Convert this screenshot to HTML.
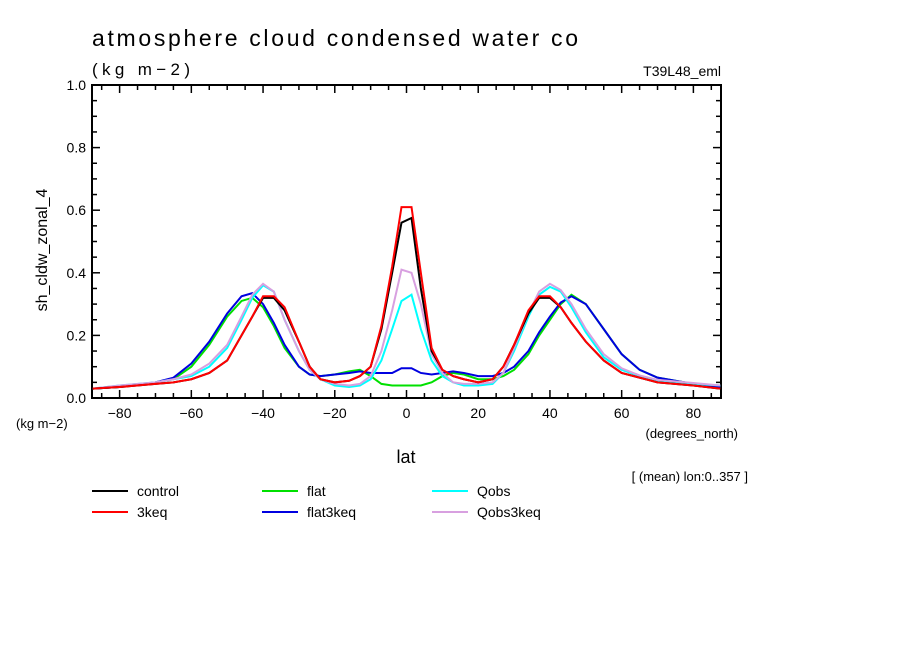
<!DOCTYPE html>
<html><head><meta charset="utf-8"><style>
body{margin:0;background:#fff}
svg text{font-family:"Liberation Sans",sans-serif;fill:#000}
</style></head><body>
<svg id="chart" width="904" height="654" viewBox="0 0 904 654">
<text x="92" y="46" font-size="23" textLength="486" lengthAdjust="spacing">atmosphere cloud condensed water co</text>
<text x="92" y="75" font-size="17" textLength="98" lengthAdjust="spacing">(kg m−2)</text>
<text x="721" y="76" font-size="14" text-anchor="end">T39L48_eml</text>
<text x="47" y="250" font-size="16" transform="rotate(-90 47 250)" text-anchor="middle">sh_cldw_zonal_4</text>
<text x="16" y="428" font-size="13">(kg m−2)</text>
<text x="406" y="463" font-size="18" text-anchor="middle">lat</text>
<text x="738" y="438" font-size="13" text-anchor="end">(degrees_north)</text>
<text x="748" y="481" font-size="13" text-anchor="end">[ (mean) lon:0..357 ]</text>
<g id="axes"></g>
<g id="series"></g>
<g id="legend"></g>
</svg>
<script>
const lats=[-87.5,-80,-70,-65,-60,-55,-50,-46,-43,-40,-37,-34,-30,-27,-24,-20,-16,-13,-10,-7,-4,-1.4,1.4,4,7,10,13,16,20,24,27,30,34,37,40,43,46,50,55,60,65,70,80,87.5];
const controlVals=[0.03,0.035,0.045,0.05,0.06,0.08,0.12,0.2,0.26,0.32,0.32,0.28,0.18,0.1,0.06,0.05,0.055,0.07,0.1,0.22,0.4,0.56,0.575,0.35,0.15,0.09,0.07,0.06,0.05,0.06,0.1,0.17,0.27,0.32,0.32,0.29,0.24,0.18,0.12,0.08,0.065,0.05,0.04,0.03];
const keq3Vals=[0.03,0.035,0.045,0.05,0.06,0.08,0.12,0.2,0.26,0.325,0.325,0.29,0.18,0.1,0.06,0.05,0.055,0.07,0.1,0.23,0.42,0.61,0.61,0.4,0.16,0.09,0.07,0.06,0.05,0.06,0.1,0.17,0.28,0.325,0.325,0.29,0.24,0.18,0.12,0.08,0.065,0.05,0.04,0.03];
const flatVals=[0.03,0.035,0.05,0.06,0.1,0.17,0.26,0.31,0.32,0.29,0.23,0.16,0.1,0.075,0.07,0.075,0.085,0.09,0.07,0.045,0.04,0.04,0.04,0.04,0.05,0.07,0.08,0.075,0.06,0.06,0.07,0.09,0.14,0.2,0.25,0.3,0.33,0.3,0.22,0.14,0.09,0.065,0.045,0.035];
const flat3keqVals=[0.03,0.035,0.05,0.065,0.11,0.18,0.27,0.325,0.335,0.3,0.24,0.17,0.1,0.075,0.07,0.075,0.08,0.085,0.08,0.08,0.08,0.095,0.095,0.08,0.075,0.08,0.085,0.08,0.07,0.07,0.08,0.1,0.15,0.21,0.26,0.305,0.325,0.3,0.22,0.14,0.09,0.065,0.045,0.035];
const qobsVals=[0.03,0.04,0.05,0.06,0.07,0.1,0.16,0.25,0.32,0.36,0.34,0.25,0.15,0.09,0.06,0.04,0.035,0.04,0.06,0.12,0.22,0.31,0.33,0.22,0.12,0.07,0.05,0.04,0.04,0.045,0.08,0.15,0.26,0.33,0.355,0.34,0.29,0.21,0.13,0.09,0.07,0.055,0.045,0.04];
const qobs3keqVals=[0.03,0.04,0.05,0.06,0.075,0.11,0.17,0.26,0.33,0.365,0.34,0.25,0.15,0.09,0.06,0.045,0.04,0.045,0.07,0.15,0.28,0.41,0.40,0.3,0.14,0.08,0.05,0.045,0.045,0.05,0.08,0.16,0.27,0.34,0.365,0.345,0.3,0.22,0.14,0.095,0.072,0.058,0.048,0.04];
const xTicks=[-80,-60,-40,-20,0,20,40,60,80];
const yTicks=[0,0.2,0.4,0.6,0.8,1.0];
const seriesNames=["control","3keq","flat","flat3keq","Qobs","Qobs3keq"];
const seriesColors=["#000000","#ff0000","#00e000","#0000e0","#00ffff","#d8a0e0"];
const seriesData=[controlVals,keq3Vals,flatVals,flat3keqVals,qobsVals,qobs3keqVals];
const L=92,R=721,T=85,B=398,XMIN=-87.7,XMAX=87.7;
const X=v=>L+(v-XMIN)/(XMAX-XMIN)*(R-L);
const Y=v=>B-v*(B-T);
const NS="http://www.w3.org/2000/svg";
function mk(t,a,p){const e=document.createElementNS(NS,t);for(const k in a)e.setAttribute(k,a[k]);p.appendChild(e);return e;}
const ax=document.getElementById('axes');
const frame=mk('rect',{x:L,y:T,width:R-L,height:B-T,fill:'none',stroke:'#000','stroke-width':2},ax);


for(let v=-85;v<=85;v+=5){const big=v%20===0;const h=big?8:5;
mk('line',{x1:X(v),x2:X(v),y1:B,y2:B-h,stroke:'#000','stroke-width':1.5},ax);
mk('line',{x1:X(v),x2:X(v),y1:T,y2:T+h,stroke:'#000','stroke-width':1.5},ax);}
for(let i=0;i<=20;i++){const v=i*0.05;const big=i%4===0;const h=big?8:5;
mk('line',{x1:L,x2:L+h,y1:Y(v),y2:Y(v),stroke:'#000','stroke-width':1.5},ax);
mk('line',{x1:R,x2:R-h,y1:Y(v),y2:Y(v),stroke:'#000','stroke-width':1.5},ax);}
xTicks.forEach(v=>{const t=mk('text',{x:X(v),y:B+20,'font-size':14,'text-anchor':'middle'},ax);t.textContent=(v<0?'−':'')+Math.abs(v);

});
yTicks.forEach(v=>{const t=mk('text',{x:L-6,y:Y(v)+5,'font-size':14,'text-anchor':'end'},ax);t.textContent=v.toFixed(1);

});
const sg=document.getElementById('series');
const order=[2,3,4,5,0,1];
order.forEach(i=>{const pts=lats.map((la,j)=>X(la)+','+Y(seriesData[i][j])).join(' ');
const p=mk('polyline',{points:pts,fill:'none',stroke:seriesColors[i],'stroke-width':2},sg);

});
const lg=document.getElementById('legend');
const lx=[92,92,262,262,432,432],ly=[496,517,496,517,496,517];
seriesNames.forEach((n,i)=>{const g=mk('g',{},lg);


mk('line',{x1:lx[i],x2:lx[i]+36,y1:ly[i]-5,y2:ly[i]-5,stroke:seriesColors[i],'stroke-width':2},g);
const t=mk('text',{x:lx[i]+45,y:ly[i],'font-size':14},g);t.textContent=n;});
</script>
</body></html>
